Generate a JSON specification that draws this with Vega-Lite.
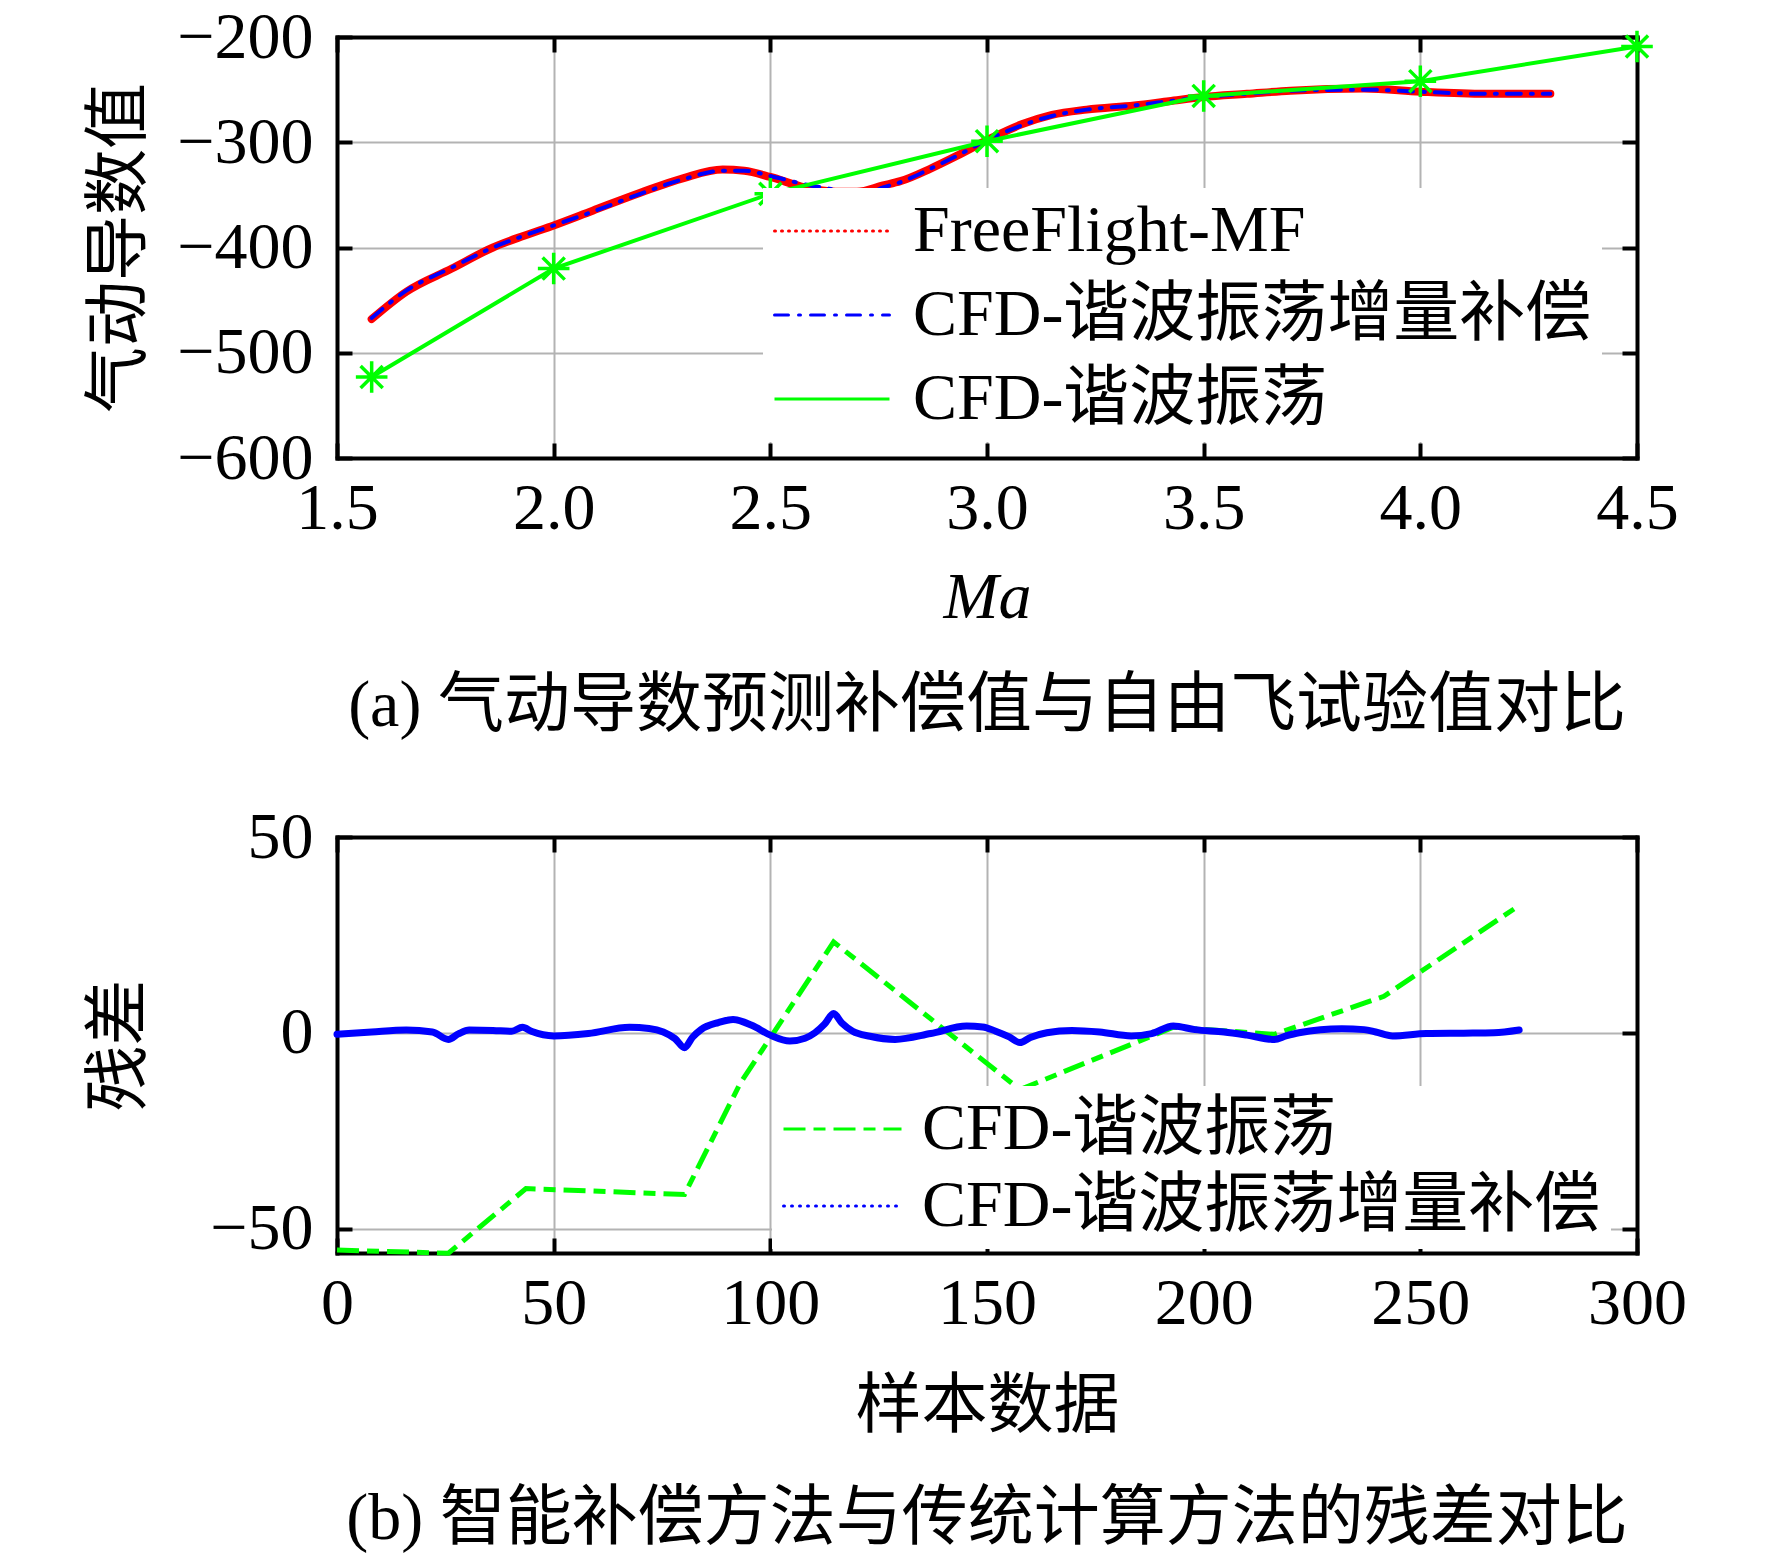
{
  "$schema": "https://vega.github.io/schema/vega-lite/v6.json",
  "background": "white",
  "padding": {"left": 86, "top": 4, "right": 10, "bottom": 5},
  "spacing": 65,
  "resolve": {
    "scale": {"color": "independent"},
    "legend": {"color": "independent"}
  },
  "config": {
    "font": "Liberation Serif, Noto Sans CJK SC",
    "view": {"stroke": null},
    "axis": {
      "domainColor": "black", "domainWidth": 4, "domainCap": "square",
      "tickColor": "black", "tickWidth": 4, "tickSize": -15,
      "labelFont": "Liberation Serif", "labelFontSize": 66, "labelColor": "black",
      "labelFlush": false, "labelOverlap": false,
      "titleFont": "Liberation Serif, Noto Sans CJK SC", "titleFontSize": 66,
      "titleFontWeight": "normal", "titleColor": "black",
      "gridColor": "#b3b3b3", "gridWidth": 2
    },
    "axisX": {"labelPadding": 33},
    "axisY": {"labelPadding": 39},
    "legend": {
      "labelFont": "Liberation Serif, Noto Sans CJK SC", "labelFontSize": 66, "labelColor": "black", "labelLimit": 2000,
      "symbolType": "stroke", "symbolStrokeWidth": 3, "fillColor": "white", "padding": 10, "clipHeight": 66
    },
    "title": {"font": "Liberation Serif, Noto Sans CJK SC", "fontSize": 66, "fontWeight": "normal", "color": "black", "anchor": "middle"}
  },
  "datasets": {
    "top": [
      {"Ma": 1.58, "v": -468, "s": "FreeFlight-MF"},
      {"Ma": 1.66, "v": -442, "s": "FreeFlight-MF"},
      {"Ma": 1.765, "v": -420, "s": "FreeFlight-MF"},
      {"Ma": 1.86, "v": -400, "s": "FreeFlight-MF"},
      {"Ma": 1.93, "v": -389, "s": "FreeFlight-MF"},
      {"Ma": 2.0, "v": -379, "s": "FreeFlight-MF"},
      {"Ma": 2.09, "v": -365, "s": "FreeFlight-MF"},
      {"Ma": 2.2, "v": -348, "s": "FreeFlight-MF"},
      {"Ma": 2.3, "v": -334, "s": "FreeFlight-MF"},
      {"Ma": 2.39, "v": -326, "s": "FreeFlight-MF"},
      {"Ma": 2.44, "v": -327, "s": "FreeFlight-MF"},
      {"Ma": 2.5, "v": -333, "s": "FreeFlight-MF"},
      {"Ma": 2.58, "v": -343, "s": "FreeFlight-MF"},
      {"Ma": 2.65, "v": -347, "s": "FreeFlight-MF"},
      {"Ma": 2.7, "v": -347, "s": "FreeFlight-MF"},
      {"Ma": 2.76, "v": -341, "s": "FreeFlight-MF"},
      {"Ma": 2.8, "v": -337, "s": "FreeFlight-MF"},
      {"Ma": 2.87, "v": -325, "s": "FreeFlight-MF"},
      {"Ma": 2.93, "v": -313, "s": "FreeFlight-MF"},
      {"Ma": 3.0, "v": -298, "s": "FreeFlight-MF"},
      {"Ma": 3.08, "v": -283, "s": "FreeFlight-MF"},
      {"Ma": 3.15, "v": -274, "s": "FreeFlight-MF"},
      {"Ma": 3.23, "v": -269, "s": "FreeFlight-MF"},
      {"Ma": 3.34, "v": -265, "s": "FreeFlight-MF"},
      {"Ma": 3.42, "v": -261, "s": "FreeFlight-MF"},
      {"Ma": 3.5, "v": -257, "s": "FreeFlight-MF"},
      {"Ma": 3.6, "v": -254, "s": "FreeFlight-MF"},
      {"Ma": 3.7, "v": -251, "s": "FreeFlight-MF"},
      {"Ma": 3.87, "v": -249, "s": "FreeFlight-MF"},
      {"Ma": 4.0, "v": -252, "s": "FreeFlight-MF"},
      {"Ma": 4.15, "v": -254, "s": "FreeFlight-MF"},
      {"Ma": 4.3, "v": -254, "s": "FreeFlight-MF"},
      {"Ma": 1.58, "v": -467, "s": "CFD-谐波振荡增量补偿"},
      {"Ma": 1.66, "v": -441, "s": "CFD-谐波振荡增量补偿"},
      {"Ma": 1.765, "v": -419, "s": "CFD-谐波振荡增量补偿"},
      {"Ma": 1.86, "v": -400, "s": "CFD-谐波振荡增量补偿"},
      {"Ma": 1.93, "v": -389, "s": "CFD-谐波振荡增量补偿"},
      {"Ma": 2.0, "v": -379, "s": "CFD-谐波振荡增量补偿"},
      {"Ma": 2.09, "v": -366, "s": "CFD-谐波振荡增量补偿"},
      {"Ma": 2.2, "v": -349, "s": "CFD-谐波振荡增量补偿"},
      {"Ma": 2.3, "v": -335, "s": "CFD-谐波振荡增量补偿"},
      {"Ma": 2.39, "v": -327, "s": "CFD-谐波振荡增量补偿"},
      {"Ma": 2.44, "v": -327, "s": "CFD-谐波振荡增量补偿"},
      {"Ma": 2.5, "v": -332, "s": "CFD-谐波振荡增量补偿"},
      {"Ma": 2.58, "v": -340, "s": "CFD-谐波振荡增量补偿"},
      {"Ma": 2.65, "v": -345, "s": "CFD-谐波振荡增量补偿"},
      {"Ma": 2.72, "v": -349, "s": "CFD-谐波振荡增量补偿"},
      {"Ma": 2.76, "v": -343, "s": "CFD-谐波振荡增量补偿"},
      {"Ma": 2.8, "v": -338, "s": "CFD-谐波振荡增量补偿"},
      {"Ma": 2.87, "v": -325, "s": "CFD-谐波振荡增量补偿"},
      {"Ma": 2.93, "v": -313, "s": "CFD-谐波振荡增量补偿"},
      {"Ma": 3.0, "v": -298, "s": "CFD-谐波振荡增量补偿"},
      {"Ma": 3.08, "v": -284, "s": "CFD-谐波振荡增量补偿"},
      {"Ma": 3.15, "v": -275, "s": "CFD-谐波振荡增量补偿"},
      {"Ma": 3.23, "v": -269, "s": "CFD-谐波振荡增量补偿"},
      {"Ma": 3.34, "v": -265, "s": "CFD-谐波振荡增量补偿"},
      {"Ma": 3.42, "v": -261, "s": "CFD-谐波振荡增量补偿"},
      {"Ma": 3.5, "v": -257, "s": "CFD-谐波振荡增量补偿"},
      {"Ma": 3.6, "v": -254, "s": "CFD-谐波振荡增量补偿"},
      {"Ma": 3.7, "v": -251, "s": "CFD-谐波振荡增量补偿"},
      {"Ma": 3.87, "v": -250, "s": "CFD-谐波振荡增量补偿"},
      {"Ma": 4.0, "v": -252, "s": "CFD-谐波振荡增量补偿"},
      {"Ma": 4.15, "v": -254, "s": "CFD-谐波振荡增量补偿"},
      {"Ma": 4.3, "v": -254, "s": "CFD-谐波振荡增量补偿"},
      {"Ma": 1.58, "v": -523, "s": "CFD-谐波振荡"},
      {"Ma": 2.0, "v": -420, "s": "CFD-谐波振荡"},
      {"Ma": 2.5, "v": -349, "s": "CFD-谐波振荡"},
      {"Ma": 3.0, "v": -299, "s": "CFD-谐波振荡"},
      {"Ma": 3.5, "v": -256, "s": "CFD-谐波振荡"},
      {"Ma": 4.0, "v": -242, "s": "CFD-谐波振荡"},
      {"Ma": 4.5, "v": -209, "s": "CFD-谐波振荡"}
    ],
    "bottom": [
      {"n": 0, "r": -55.5, "s": "CFD-谐波振荡"},
      {"n": 25.7, "r": -56.3, "s": "CFD-谐波振荡"},
      {"n": 43.6, "r": -39.8, "s": "CFD-谐波振荡"},
      {"n": 80.2, "r": -41.3, "s": "CFD-谐波振荡"},
      {"n": 93, "r": -13, "s": "CFD-谐波振荡"},
      {"n": 114.6, "r": 23.2, "s": "CFD-谐波振荡"},
      {"n": 157.6, "r": -14.5, "s": "CFD-谐波振荡"},
      {"n": 193, "r": 1.4, "s": "CFD-谐波振荡"},
      {"n": 216.3, "r": -0.4, "s": "CFD-谐波振荡"},
      {"n": 241.6, "r": 9.3, "s": "CFD-谐波振荡"},
      {"n": 272.8, "r": 32.5, "s": "CFD-谐波振荡"},
      {"n": 0, "r": -0.4, "s": "CFD-谐波振荡增量补偿"},
      {"n": 8, "r": 0.2, "s": "CFD-谐波振荡增量补偿"},
      {"n": 16, "r": 0.7, "s": "CFD-谐波振荡增量补偿"},
      {"n": 22, "r": 0.2, "s": "CFD-谐波振荡增量补偿"},
      {"n": 25.7, "r": -1.7, "s": "CFD-谐波振荡增量补偿"},
      {"n": 28, "r": -0.3, "s": "CFD-谐波振荡增量补偿"},
      {"n": 30.5, "r": 0.7, "s": "CFD-谐波振荡增量补偿"},
      {"n": 36, "r": 0.6, "s": "CFD-谐波振荡增量补偿"},
      {"n": 40.3, "r": 0.4, "s": "CFD-谐波振荡增量补偿"},
      {"n": 42.8, "r": 1.4, "s": "CFD-谐波振荡增量补偿"},
      {"n": 45, "r": 0.3, "s": "CFD-谐波振荡增量补偿"},
      {"n": 50, "r": -0.8, "s": "CFD-谐波振荡增量补偿"},
      {"n": 58, "r": -0.2, "s": "CFD-谐波振荡增量补偿"},
      {"n": 67.5, "r": 1.4, "s": "CFD-谐波振荡增量补偿"},
      {"n": 72, "r": 1.1, "s": "CFD-谐波振荡增量补偿"},
      {"n": 75.3, "r": 0.2, "s": "CFD-谐波振荡增量补偿"},
      {"n": 78, "r": -1.5, "s": "CFD-谐波振荡增量补偿"},
      {"n": 80.2, "r": -3.8, "s": "CFD-谐波振荡增量补偿"},
      {"n": 82, "r": -1.2, "s": "CFD-谐波振荡增量补偿"},
      {"n": 84, "r": 0.8, "s": "CFD-谐波振荡增量补偿"},
      {"n": 88, "r": 2.6, "s": "CFD-谐波振荡增量补偿"},
      {"n": 91.4, "r": 3.4, "s": "CFD-谐波振荡增量补偿"},
      {"n": 95.7, "r": 1.9, "s": "CFD-谐波振荡增量补偿"},
      {"n": 100, "r": -0.6, "s": "CFD-谐波振荡增量补偿"},
      {"n": 104.5, "r": -2.1, "s": "CFD-谐波振荡增量补偿"},
      {"n": 108, "r": -1.4, "s": "CFD-谐波振荡增量补偿"},
      {"n": 110.3, "r": 0, "s": "CFD-谐波振荡增量补偿"},
      {"n": 112.5, "r": 2.2, "s": "CFD-谐波振荡增量补偿"},
      {"n": 114.6, "r": 4.9, "s": "CFD-谐波振荡增量补偿"},
      {"n": 116.5, "r": 2.5, "s": "CFD-谐波振荡增量补偿"},
      {"n": 119, "r": 0.4, "s": "CFD-谐波振荡增量补偿"},
      {"n": 123, "r": -0.9, "s": "CFD-谐波振荡增量补偿"},
      {"n": 128.8, "r": -1.7, "s": "CFD-谐波振荡增量补偿"},
      {"n": 137, "r": -0.2, "s": "CFD-谐波振荡增量补偿"},
      {"n": 145.3, "r": 1.7, "s": "CFD-谐波振荡增量补偿"},
      {"n": 149, "r": 1.5, "s": "CFD-谐波振荡增量补偿"},
      {"n": 152, "r": 0.4, "s": "CFD-谐波振荡增量补偿"},
      {"n": 155, "r": -1, "s": "CFD-谐波振荡增量补偿"},
      {"n": 157.6, "r": -2.5, "s": "CFD-谐波振荡增量补偿"},
      {"n": 160, "r": -1.2, "s": "CFD-谐波振荡增量补偿"},
      {"n": 163.8, "r": 0, "s": "CFD-谐波振荡增量补偿"},
      {"n": 169.6, "r": 0.6, "s": "CFD-谐波振荡增量补偿"},
      {"n": 176, "r": 0.2, "s": "CFD-谐波振荡增量补偿"},
      {"n": 183.3, "r": -0.8, "s": "CFD-谐波振荡增量补偿"},
      {"n": 188, "r": -0.2, "s": "CFD-谐波振荡增量补偿"},
      {"n": 193, "r": 1.7, "s": "CFD-谐波振荡增量补偿"},
      {"n": 198, "r": 0.8, "s": "CFD-谐波振荡增量补偿"},
      {"n": 204.7, "r": 0.2, "s": "CFD-谐波振荡增量补偿"},
      {"n": 210, "r": -0.6, "s": "CFD-谐波振荡增量补偿"},
      {"n": 216.3, "r": -1.7, "s": "CFD-谐波振荡增量补偿"},
      {"n": 219, "r": -0.8, "s": "CFD-谐波振荡增量补偿"},
      {"n": 222, "r": 0, "s": "CFD-谐波振荡增量补偿"},
      {"n": 231.9, "r": 1.0, "s": "CFD-谐波振荡增量补偿"},
      {"n": 237, "r": 0.8, "s": "CFD-谐波振荡增量补偿"},
      {"n": 239.7, "r": 0.2, "s": "CFD-谐波振荡增量补偿"},
      {"n": 243.6, "r": -0.8, "s": "CFD-谐波振荡增量补偿"},
      {"n": 251.4, "r": -0.2, "s": "CFD-谐波振荡增量补偿"},
      {"n": 260, "r": -0.1, "s": "CFD-谐波振荡增量补偿"},
      {"n": 267, "r": 0, "s": "CFD-谐波振荡增量补偿"},
      {"n": 272.8, "r": 0.7, "s": "CFD-谐波振荡增量补偿"}
    ]
  },
  "vconcat": [
    {
      "width": 1300,
      "height": 421,
      "title": {"text": "(a) 气动导数预测补偿值与自由飞试验值对比", "orient": "bottom", "offset": 44},
      "data": {"name": "top"},
      "layer": [
        {
          "transform": [{"filter": "datum.s === 'FreeFlight-MF'"}],
          "mark": {"type": "line", "strokeWidth": 8, "strokeCap": "round", "interpolate": "monotone"},
          "encoding": {
            "x": {"field": "Ma", "type": "quantitative", "scale": {"domain": [1.5, 4.5], "nice": false, "zero": false},
                  "axis": {"orient": "bottom", "grid": true, "values": [1.5, 2, 2.5, 3, 3.5, 4, 4.5], "format": ".1f", "title": "Ma", "titleFontStyle": "italic", "titlePadding": 24}},
            "y": {"field": "v", "type": "quantitative", "scale": {"domain": [-600, -200], "nice": false, "zero": false},
                  "axis": {"orient": "left", "grid": true, "values": [-600, -500, -400, -300, -200], "title": "气动导数值", "titlePadding": 23}},
            "color": {"field": "s", "type": "nominal",
                      "scale": {"domain": ["FreeFlight-MF", "CFD-谐波振荡增量补偿", "CFD-谐波振荡"], "range": ["#ff0000", "#0000ff", "#00ff00"]},
                      "legend": {"title": null, "orient": "none", "legendX": 426, "legendY": 151, "symbolSize": 13225, "labelOffset": 22, "rowPadding": 18,
                                 "encode": {"symbols": {"update": {
                                   "strokeCap": {"signal": "datum.value === 'CFD-谐波振荡' ? 'butt' : 'round'"},
                                   "strokeDash": {"signal": "datum.value === 'FreeFlight-MF' ? [1, 6] : datum.value === 'CFD-谐波振荡增量补偿' ? [14, 10, 2, 10] : [1, 0]"}
                                 }}}}}
          }
        },
        {
          "transform": [{"filter": "datum.s === 'CFD-谐波振荡增量补偿'"}],
          "mark": {"type": "line", "strokeWidth": 4, "strokeCap": "round", "strokeDash": [14, 10, 2, 10], "interpolate": "monotone"},
          "encoding": {
            "x": {"field": "Ma", "type": "quantitative", "axis": null},
            "y": {"field": "v", "type": "quantitative", "axis": null},
            "color": {"field": "s", "type": "nominal"}
          }
        },
        {
          "transform": [{"filter": "datum.s === 'CFD-谐波振荡'"}],
          "mark": {"type": "line", "strokeWidth": 4},
          "encoding": {
            "x": {"field": "Ma", "type": "quantitative",
                  "axis": {"orient": "top", "labels": false, "grid": false, "title": null, "values": [1.5, 2, 2.5, 3, 3.5, 4, 4.5]}},
            "y": {"field": "v", "type": "quantitative",
                  "axis": {"orient": "right", "labels": false, "grid": false, "title": null, "values": [-600, -500, -400, -300, -200]}},
            "color": {"field": "s", "type": "nominal"}
          }
        },
        {
          "transform": [{"filter": "datum.s === 'CFD-谐波振荡'"}],
          "mark": {"type": "point", "shape": "M-1,0L1,0M0,-1L0,1M-0.7,-0.7L0.7,0.7M-0.7,0.7L0.7,-0.7", "filled": false, "size": 1000, "strokeWidth": 3.5, "color": "#00ff00", "opacity": 1},
          "encoding": {
            "x": {"field": "Ma", "type": "quantitative", "axis": null},
            "y": {"field": "v", "type": "quantitative", "axis": null}
          }
        }
      ],
      "resolve": {"axis": {"x": "independent", "y": "independent"}}
    },
    {
      "width": 1300,
      "height": 416,
      "title": {"text": "(b) 智能补偿方法与传统计算方法的残差对比", "orient": "bottom", "offset": 48},
      "data": {"name": "bottom"},
      "layer": [
        {
          "transform": [{"filter": "datum.s === 'CFD-谐波振荡'"}],
          "mark": {"type": "line", "strokeWidth": 5, "strokeDash": [22, 8, 12, 8]},
          "encoding": {
            "x": {"field": "n", "type": "quantitative", "scale": {"domain": [0, 300], "nice": false},
                  "axis": {"orient": "bottom", "grid": true, "values": [0, 50, 100, 150, 200, 250, 300], "title": "样本数据", "titlePadding": 38}},
            "y": {"field": "r", "type": "quantitative", "scale": {"domain": [-56.25, 50], "nice": false, "zero": false},
                  "axis": {"orient": "left", "grid": true, "values": [-50, 0, 50], "title": "残差", "titlePadding": 56}},
            "color": {"field": "s", "type": "nominal",
                      "scale": {"domain": ["CFD-谐波振荡", "CFD-谐波振荡增量补偿"], "range": ["#00ff00", "#0000ff"]},
                      "legend": {"title": null, "orient": "none", "legendX": 435, "legendY": 249, "symbolSize": 13924, "labelOffset": 19, "rowPadding": 11,
                                 "encode": {"symbols": {"update": {
                                   "strokeCap": {"signal": "datum.value === 'CFD-谐波振荡' ? 'butt' : 'round'"},
                                   "strokeDash": {"signal": "datum.value === 'CFD-谐波振荡' ? [22, 8, 12, 8] : [1, 7]"}
                                 }}}}}
          }
        },
        {
          "transform": [{"filter": "datum.s === 'CFD-谐波振荡增量补偿'"}],
          "mark": {"type": "line", "strokeWidth": 7, "strokeCap": "round", "interpolate": "monotone"},
          "encoding": {
            "x": {"field": "n", "type": "quantitative",
                  "axis": {"orient": "top", "labels": false, "grid": false, "title": null, "values": [0, 50, 100, 150, 200, 250, 300]}},
            "y": {"field": "r", "type": "quantitative",
                  "axis": {"orient": "right", "labels": false, "grid": false, "title": null, "values": [-50, 0, 50]}},
            "color": {"field": "s", "type": "nominal"}
          }
        }
      ],
      "resolve": {"axis": {"x": "independent", "y": "independent"}}
    }
  ]
}
